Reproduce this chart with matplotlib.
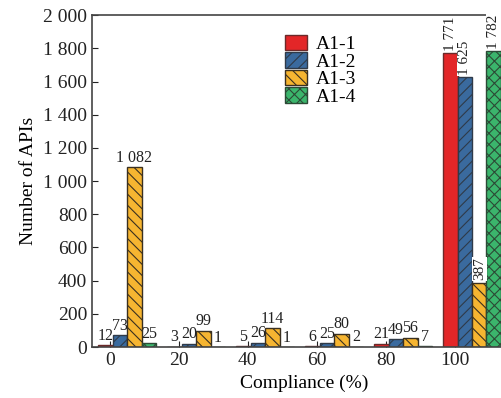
import numpy as np
import matplotlib.pyplot as plt
from matplotlib.ticker import FuncFormatter

plt.rcParams['font.family'] = ['Liberation Serif', 'DejaVu Serif']
plt.rcParams['hatch.linewidth'] = 0.8

compliance = [0, 20, 40, 60, 80, 100]
series = ['A1-1', 'A1-2', 'A1-3', 'A1-4']
counts = {
    'A1-1': [12, 3, 5, 6, 21, 1771],
    'A1-2': [73, 20, 26, 25, 49, 1625],
    'A1-3': [1082, 99, 114, 80, 56, 387],
    'A1-4': [25, 1, 1, 2, 7, 1782],
}
colors = ['#e32628', '#3a6a9e', '#f6b531', '#3bb56c']
edges = ['#6b2a2a', '#2f3a48', '#3a3020', '#2c4a36']
hatches = ['', '///', '\\\\\\', 'xxx']
offsets = [-1.3, 2.9, 7.1, 11.3]
width = 4.2


def spaced(v, pos=None):
    return f'{int(v):,}'.replace(',', ' ')


fig = plt.figure(figsize=(5.01, 3.98), dpi=100)
ax = fig.add_axes([0.1836, 0.128, 0.848, 0.834])

x = np.array(compliance, dtype=float)
for i, name in enumerate(series):
    vals = counts[name]
    ax.bar(x + offsets[i], vals, width=width, color=colors[i], edgecolor=edges[i],
           hatch=hatches[i], linewidth=1.0, label=name, zorder=2)
    for g, v in enumerate(vals):
        xv = x[g] + offsets[i]
        if compliance[g] == 100:
            # tall group: rotated labels
            ax.text(xv, v + 15, spaced(v), rotation=90, ha='center', va='bottom',
                    fontsize=11, color='#222222', clip_on=False,
                    bbox=dict(facecolor='white', edgecolor='none', pad=0.5))
        else:
            ax.text(xv, v + 8, spaced(v), ha='center', va='bottom',
                    fontsize=11.5, color='#222222')

ax.set_xlim(-5.2, 118)
ax.set_ylim(0, 2000)
ax.set_xticks(compliance)
ax.set_yticks(np.arange(0, 2001, 200))
ax.yaxis.set_major_formatter(FuncFormatter(spaced))
ax.tick_params(direction='in', labelsize=14, length=4, colors='#222222')
for s in ax.spines.values():
    s.set_color('#444444')
    s.set_linewidth(1.2)

ax.set_xlabel('Compliance (%)', fontsize=14, labelpad=4)
ax.set_ylabel('Number of APIs', fontsize=14, labelpad=4)

ax.legend(loc='upper left', bbox_to_anchor=(0.437, 0.965), frameon=False,
          fontsize=14, handlelength=1.1, handleheight=0.85, labelspacing=-0.05,
          handletextpad=0.45, borderaxespad=0)

fig.savefig('out.png', dpi=100)
